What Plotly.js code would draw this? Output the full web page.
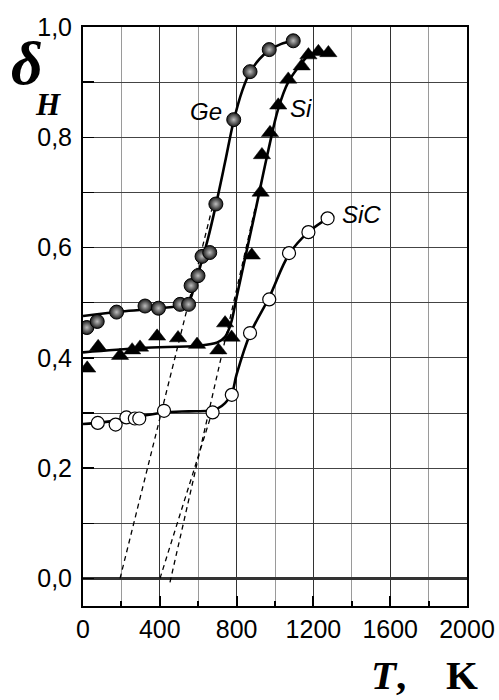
<!DOCTYPE html>
<html>
<head>
<meta charset="utf-8">
<script src="https://cdn.plot.ly/plotly-3.0.1.min.js"></script>
<style>
  html, body { margin: 0; padding: 0; background: #fff; }
  #chart { width: 499px; height: 700px; }
</style>
</head>
<body>
<div id="chart"></div>
<script>
// Measured points, temperature T (K) and delta_H
const geT  = [20, 74, 175, 323, 393, 506, 550, 563, 599, 620, 660, 692, 785, 870, 970, 1095];
const geD  = [0.455, 0.466, 0.483, 0.494, 0.490, 0.497, 0.497, 0.531, 0.549, 0.584, 0.591, 0.679, 0.832, 0.919, 0.959, 0.975];

const siT  = [22, 79, 193, 256, 297, 386, 495, 594, 705, 740, 774, 879, 925, 932, 974, 1017, 1069, 1139, 1174, 1226, 1278];
const siD  = [0.381, 0.420, 0.404, 0.414, 0.419, 0.439, 0.436, 0.424, 0.414, 0.463, 0.437, 0.586, 0.700, 0.768, 0.808, 0.858, 0.905, 0.929, 0.949, 0.955, 0.953];

const sicT = [77, 170, 226, 270, 293, 422, 675, 775, 870, 970, 1073, 1174, 1274];
const sicD = [0.282, 0.279, 0.292, 0.290, 0.290, 0.304, 0.301, 0.333, 0.445, 0.506, 0.590, 0.628, 0.653];

// Smoothed trend curves
const geFitT  = [0, 200, 400, 520, 555, 580, 610, 650, 692, 740, 785, 830, 870, 920, 970, 1030, 1095];
const geFitD  = [0.476, 0.484, 0.490, 0.496, 0.505, 0.530, 0.565, 0.615, 0.677, 0.755, 0.830, 0.885, 0.918, 0.942, 0.958, 0.969, 0.975];

const siFitT  = [0, 300, 600, 700, 740, 770, 800, 850, 900, 965, 1017, 1069, 1139, 1190];
const siFitD  = [0.410, 0.418, 0.422, 0.428, 0.438, 0.462, 0.510, 0.590, 0.670, 0.776, 0.852, 0.900, 0.935, 0.955];

const sicFitT = [0, 100, 200, 300, 420, 550, 650, 700, 740, 775, 800, 870, 970, 1073, 1174, 1274];
const sicFitD = [0.280, 0.283, 0.288, 0.294, 0.301, 0.303, 0.304, 0.308, 0.318, 0.335, 0.370, 0.443, 0.510, 0.588, 0.628, 0.653];

// Tangent extrapolations down to delta_H = 0
const geTanT  = [193, 670];
const geTanD  = [0.0, 0.668];
const siTanT  = [453, 900];
const siTanD  = [-0.007, 0.677];
const sicTanT = [401, 680];
const sicTanD = [0.0, 0.31];

// Curve labels
const labelText = ['Ge', 'Si', 'SiC'];
const labelT    = [643, 1135, 1448];
const labelD    = [0.847, 0.852, 0.660];

const xTickStep = 400;
const yTickStep = 0.2;

const dashStyle = { color: '#000', width: 1.3, dash: '5px,4px' };
const fitStyle  = { color: '#000', width: 2.6, shape: 'spline', smoothing: 1 };

const traces = [
  { x: geTanT,  y: geTanD,  mode: 'lines', line: dashStyle, hoverinfo: 'skip' },
  { x: siTanT,  y: siTanD,  mode: 'lines', line: dashStyle, hoverinfo: 'skip' },
  { x: sicTanT, y: sicTanD, mode: 'lines', line: dashStyle, hoverinfo: 'skip' },
  { x: geFitT,  y: geFitD,  mode: 'lines', line: fitStyle },
  { x: siFitT,  y: siFitD,  mode: 'lines', line: fitStyle },
  { x: sicFitT, y: sicFitD, mode: 'lines', line: fitStyle },
  { x: sicT, y: sicD, mode: 'markers', name: 'SiC',
    marker: { symbol: 'circle', size: 13, color: '#fff', line: { color: '#000', width: 1.2 } } },
  { x: siT, y: siD, mode: 'markers', name: 'Si',
    marker: { symbol: 'triangle-up', size: 15, color: '#000', line: { color: '#000', width: 0.5 } } },
  { x: geT, y: geD, mode: 'markers', name: 'Ge',
    marker: { symbol: 'circle', size: 14, color: '#1a1a1a',
              gradient: { type: 'radial', color: '#bdbdbd' },
              line: { color: '#000', width: 1 } } }
];

const tickFont = { family: 'Liberation Sans, Arial, sans-serif', size: 25, color: '#000' };
const serif = 'Liberation Serif, Times New Roman, serif';

const annotations = labelText.map((t, i) => ({
  x: labelT[i], y: labelD[i], xref: 'x', yref: 'y', text: '<i>' + t + '</i>',
  xanchor: 'center', yanchor: 'middle',
  showarrow: false, font: { family: 'Liberation Sans, Arial, sans-serif', size: 24, color: '#000' }
}));

// Axis titles: delta with subscript H, and "T, K"
annotations.push(
  { x: -0.146, y: 0.937, xref: 'paper', yref: 'paper', xanchor: 'center', yanchor: 'middle',
    text: '<b><i>δ</i></b>', showarrow: false, font: { family: serif, size: 62, color: '#000' } },
  { x: -0.09, y: 0.867, xref: 'paper', yref: 'paper', xanchor: 'center', yanchor: 'middle',
    text: '<b><i>H</i></b>', showarrow: false, font: { family: serif, size: 31, color: '#000' } },
  { x: 0.795, y: -0.119, xref: 'paper', yref: 'paper', xanchor: 'center', yanchor: 'middle',
    text: '<b><i>T</i>,</b>', showarrow: false, font: { family: serif, size: 41, color: '#000' } },
  { x: 0.986, y: -0.119, xref: 'paper', yref: 'paper', xanchor: 'center', yanchor: 'middle',
    text: '<b>K</b>', showarrow: false, font: { family: serif, size: 41, color: '#000' } }
);

const layout = {
  width: 499, height: 700,
  margin: { l: 83, r: 32, t: 27, b: 94 },
  paper_bgcolor: '#fff', plot_bgcolor: '#fff',
  showlegend: false,
  separators: ',.',
  xaxis: {
    range: [0, 2000], tick0: 0, dtick: xTickStep, tickformat: 'd',
    ticks: 'inside', ticklen: 10, tickwidth: 2, tickcolor: '#000',
    showgrid: true, gridcolor: '#333', gridwidth: 1,
    minor: { dtick: xTickStep / 2, ticks: 'inside', ticklen: 5, tickwidth: 2, tickcolor: '#000',
             showgrid: true, gridcolor: '#9a9a9a', gridwidth: 1 },
    showline: true, mirror: true, linecolor: '#000', linewidth: 2,
    zeroline: false, tickfont: tickFont
  },
  yaxis: {
    range: [-0.05, 1.0], tick0: 0, dtick: yTickStep, tickformat: '.1f',
    ticks: 'inside', ticklen: 11, tickwidth: 1.5, tickcolor: '#000',
    showgrid: true, gridcolor: '#444', gridwidth: 1,
    minor: { dtick: yTickStep / 2, ticks: 'inside', ticklen: 11, tickwidth: 1.5, tickcolor: '#000',
             showgrid: true, gridcolor: '#444', gridwidth: 1 },
    showline: true, mirror: true, linecolor: '#000', linewidth: 2,
    zeroline: true, zerolinecolor: '#333', zerolinewidth: 3,
    ticklabelstandoff: 4,
    tickfont: tickFont
  },
  annotations: annotations
};

Plotly.newPlot('chart', traces, layout, { staticPlot: true, displayModeBar: false });
</script>
</body>
</html>
